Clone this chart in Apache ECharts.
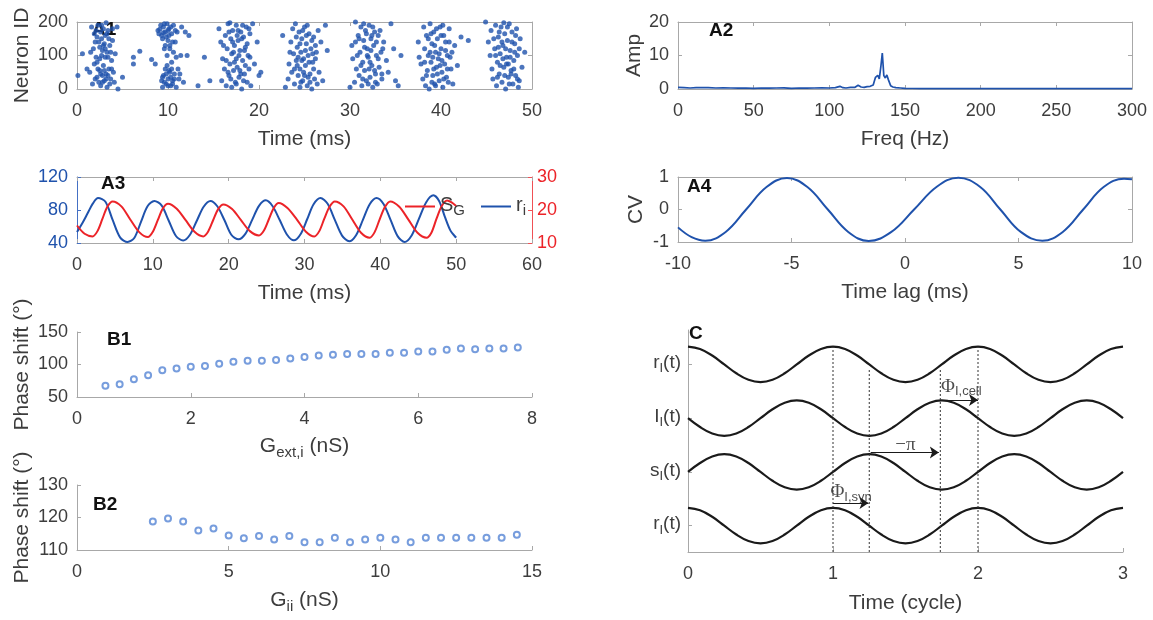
<!DOCTYPE html>
<html><head><meta charset="utf-8">
<script src="https://cdn.jsdelivr.net/npm/echarts@6/dist/echarts.min.js"></script>
<style>html,body{margin:0;padding:0;background:#fff}#c{width:1153px;height:620px}</style>
</head><body><div id="c"></div>
<script>
// ---------------- DATA ----------------
// A1 raster: [time ms, neuron id]
const burst1 = [[0.1,40],[0.6,105],[1.1,60],[1.4,50],[1.6,185],[1.7,15],[1.8,120],[1.9,165],[2.0,140],[2.1,95],[2.2,35],[2.2,80],[2.3,190],[2.4,20],[2.5,125],[2.5,55],[2.6,170],[2.6,10],[2.7,100],[2.7,150],[2.8,40],[2.8,115],[2.9,180],[2.9,70],[3.0,25],[3.0,135],[3.1,95],[3.1,160],[3.2,45],[3.3,5],[3.3,110],[3.4,175],[3.5,60],[3.6,130],[3.7,30],[3.8,85],[3.9,145],[4.0,50],[4.2,105],[4.4,185],[4.5,0],[5.0,35],[6.2,95],[6.2,75],[6.9,113],
  [2.0,30],[2.1,175],[2.3,60],[2.4,140],[2.5,90],[2.6,45],[2.7,190],[2.8,20],[2.9,130],[3.0,55],[3.1,120],[3.2,30],[3.3,165],[3.4,40],[3.4,95],[3.5,150],[3.6,15],[3.7,110],[3.8,60],[3.9,180],[1.9,75],[1.5,110],[2.2,155],[3.2,198],[4.1,20]];
const burst2 = [[8.2,88],[8.6,75],[8.9,175],[9.0,165],[9.2,190],[9.3,25],[9.4,150],[9.4,5],[9.5,185],[9.5,40],[9.6,120],[9.7,170],[9.7,60],[9.8,15],[9.9,195],[9.9,100],[10.0,145],[10.0,30],[10.1,180],[10.2,50],[10.2,130],[10.3,10],[10.4,165],[10.4,80],[10.5,25],[10.6,110],[10.6,190],[10.7,45],[10.8,140],[10.9,5],[11.0,170],[11.1,60],[11.2,30],[11.4,100],[11.5,185],[11.7,20],[11.9,170],[12.1,100],[12.3,160],[13.3,10],[14.0,95],[14.6,25],
  [9.1,178],[9.3,160],[9.5,168],[9.6,195],[9.8,155],[10.0,175],[10.1,160],[10.3,185],[9.4,35],[9.6,20],[9.8,45],[10.0,10],[10.1,55],[10.3,35],[10.5,15],[10.7,30],[10.2,120],[10.5,140],[10.9,95],[10.4,60],[9.9,70],[11.3,45],[10.8,175],[9.7,130]];
const burst3 = [[15.6,180],[15.8,140],[15.9,25],[16.0,90],[16.2,60],[16.3,160],[16.4,10],[16.5,120],[16.6,195],[16.7,40],[16.8,75],[16.9,150],[17.0,105],[17.0,5],[17.1,175],[17.2,55],[17.3,130],[17.4,20],[17.5,90],[17.5,190],[17.6,65],[17.7,145],[17.8,35],[17.9,115],[18.0,170],[18.1,0],[18.2,85],[18.3,155],[18.4,45],[18.5,125],[18.6,185],[18.7,20],[18.8,100],[18.9,60],[19.0,165],[19.1,10],[19.3,195],[19.5,75],[19.8,140],[20.2,50],[20.0,40],
  [16.1,130],[16.4,85],[16.7,170],[16.9,30],[17.1,140],[17.3,80],[17.5,15],[17.6,160],[17.8,100],[18.0,45],[18.2,190],[18.3,25],[18.5,70],[18.7,135],[18.9,180],[19.0,95],[17.2,110],[16.8,198],[17.9,55],[18.4,115],[16.6,50],[17.7,175],[18.1,150]];
const burst4 = [[22.6,160],[22.9,5],[23.2,30],[23.3,75],[23.5,140],[23.6,50],[23.7,180],[23.8,105],[23.9,15],[24.0,195],[24.1,85],[24.2,125],[24.3,40],[24.4,170],[24.5,60],[24.5,5],[24.6,110],[24.7,150],[24.8,25],[24.9,90],[25.0,185],[25.1,70],[25.2,135],[25.3,10],[25.4,100],[25.5,165],[25.6,45],[25.7,120],[25.8,0],[25.9,80],[26.0,155],[26.1,30],[26.2,90],[26.3,110],[26.5,175],[26.6,50],[26.8,140],[27.0,25],[27.3,190],[27.5,115],
  [23.4,110],[23.9,60],[24.1,155],[24.3,95],[24.5,135],[24.6,20],[24.8,175],[25.0,40],[25.1,115],[25.3,190],[25.5,80],[25.6,20],[25.8,145],[26.0,60],[26.2,130],[26.4,15],[24.2,70],[24.9,50],[25.2,160],[25.9,105],[24.7,85],[25.4,35]];
const burst5 = [[30.0,5],[30.2,130],[30.3,90],[30.5,20],[30.6,200],[30.7,60],[30.9,160],[31.0,40],[31.1,110],[31.2,185],[31.3,10],[31.4,80],[31.5,145],[31.6,55],[31.7,175],[31.8,25],[31.9,120],[32.0,95],[32.1,190],[32.2,35],[32.3,150],[32.4,70],[32.5,5],[32.6,130],[32.7,170],[32.8,45],[32.9,100],[33.0,15],[33.1,160],[33.2,65],[33.4,110],[33.5,30],[33.7,140],[34.0,85],[34.2,50],[34.5,195],[34.8,120],[35.0,25],[35.3,10],[35.6,100],
  [30.8,100],[31.0,150],[31.2,70],[31.4,30],[31.6,125],[31.8,165],[32.0,15],[32.2,80],[32.3,115],[32.5,185],[32.7,55],[32.9,140],[33.1,90],[33.3,175],[33.5,45],[31.5,195],[32.1,60],[32.8,20],[31.9,100],[33.6,120],[30.6,140],[32.4,160]];
const burst6 = [[37.5,140],[37.6,95],[37.8,75],[38.0,30],[38.1,185],[38.2,120],[38.3,10],[38.4,160],[38.5,55],[38.6,100],[38.7,0],[38.8,195],[38.9,80],[39.0,135],[39.1,40],[39.2,170],[39.3,15],[39.4,110],[39.5,65],[39.6,150],[39.7,90],[39.8,25],[39.9,185],[40.0,120],[40.1,50],[40.2,5],[40.3,160],[40.4,75],[40.5,140],[40.6,35],[40.7,100],[40.8,20],[40.9,180],[41.0,95],[41.1,60],[41.3,15],[41.5,130],[41.8,70],[42.2,155],[43.0,145],
  [38.2,80],[38.4,40],[38.6,150],[38.8,110],[39.0,20],[39.1,95],[39.3,130],[39.5,180],[39.6,45],[39.8,105],[40.0,160],[40.1,85],[40.3,30],[40.5,115],[40.7,60],[40.9,140],[39.2,60],[39.9,70],[38.9,165],[40.2,190],[41.2,110],[39.4,10]];
const burst7 = [[44.9,200],[45.2,140],[45.4,100],[45.5,175],[45.6,60],[45.7,30],[45.9,120],[46.0,190],[46.1,10],[46.2,80],[46.3,155],[46.4,45],[46.5,105],[46.6,185],[46.7,20],[46.8,130],[46.9,65],[47.0,165],[47.1,0],[47.2,95],[47.3,145],[47.4,35],[47.4,75],[47.5,195],[47.6,115],[47.7,55],[47.8,170],[47.9,15],[48.0,85],[48.1,135],[48.2,40],[48.3,180],[48.4,100],[48.5,5],[48.6,25],[48.7,150],[48.9,65],[49.2,110],
  [45.8,150],[46.0,100],[46.2,35],[46.4,170],[46.5,70],[46.7,140],[46.8,90],[47.0,40],[47.1,120],[47.3,185],[47.5,15],[47.6,95],[47.8,140],[48.0,60],[48.2,160],[48.4,30],[48.6,120],[46.9,198],[47.2,75],[47.7,45],[46.3,125],[48.1,110]];

// A2 spectrum
const freqHz = [0,4,8,12,16,20,25,30,35,40,45,50,55,60,65,70,75,80,85,90,95,100,104,107,109,111,114,117,119,121,123,125,127,129,130.5,132,133,134,135,136,137,138,139,140.5,142,144,147,150,155,160,170,180,190,200,220,240,260,280,300];
const ampA2  = [0.5,0.4,0.3,0.4,0.45,0.4,0.3,0.35,0.3,0.25,0.3,0.2,0.3,0.25,0.3,0.35,0.2,0.3,0.25,0.3,0.35,0.3,0.4,0.8,0.4,0.3,0.5,0.5,1.1,0.6,0.5,0.7,0.8,1.2,3.5,4.1,3.0,6.5,10.7,4.0,3.3,4.2,2.8,1.0,0.6,0.4,0.3,0.2,0.15,0.1,0.1,0.1,0.1,0.1,0.1,0.1,0.1,0.1,0.1];

// A3 traces
const timeSG = [0,1.0,2.05,2.7,3.35,4.0,4.7,5.85,7.0,8.2,9.35,10.0,10.65,11.3,12.0,13.15,14.3,15.5,16.65,17.3,17.95,18.6,19.3,20.45,21.6,22.8,24.0,24.65,25.3,25.95,26.6,27.75,29.0,30.15,31.3,31.95,32.6,33.3,34.0,35.15,36.3,37.45,38.6,39.25,39.9,40.6,41.3,42.5,43.7,44.9,46.1,46.75,47.4,48.1,48.8,49.4,50.0];
const valSG  = [15.3,12.8,12.0,13.6,17.3,21.0,22.6,21.1,17.2,13.3,11.8,13.4,16.9,20.4,21.9,20.4,17.0,13.4,12.0,13.5,16.9,20.2,21.7,20.3,17.0,13.6,12.3,13.8,17.2,20.6,22.1,20.6,17.1,13.5,12.0,13.6,17.3,21.0,22.6,21.1,17.1,13.1,11.6,13.3,17.1,20.9,22.6,21.0,17.1,13.1,11.6,13.2,17.3,21.2,22.9,22.3,21.2];
const timeRi = [0,0.7,1.4,2.1,2.78,3.75,4.7,5.7,6.67,7.55,8.45,9.3,10.2,11.15,12.1,13.05,14.0,14.9,15.8,16.7,17.6,18.5,19.45,20.35,21.3,22.2,23.1,24.0,24.9,25.8,26.75,27.7,28.6,29.5,30.35,31.2,32.1,33.05,34.0,34.95,35.9,36.8,37.7,38.6,39.5,40.4,41.35,42.3,43.2,44.15,45.1,46.05,47.0,47.75,48.5,49.25,50];
const valRi  = [53.3,64,76,88,94.5,90,68,46.5,41.2,46,66,84.5,91,85.5,67,48.5,43,50,67,84,91,84.5,67.5,50,44.4,51,68,85,91.7,84.5,67.5,50,43.2,51,68.8,87,94.5,87.5,68,49,42,49.5,68,87,94.5,87.5,68,48,41.2,49.5,69.5,89.5,97.8,91,72,55,46.5];

// A4 cross-correlation
const lagMs  = [-10,-9.4,-8.8,-7.9,-7.0,-6.1,-5.2,-4.3,-3.4,-2.5,-1.6,-0.6,0.4,1.4,2.35,3.3,4.2,5.1,6.05,6.95,7.85,8.75,9.65,10];
const cvVals = [-0.55,-0.85,-0.96,-0.69,0,0.69,0.97,0.69,0,-0.69,-0.97,-0.69,0,0.7,0.98,0.7,0,-0.69,-0.96,-0.69,0,0.69,0.95,0.93];

// B1 / B2 phase shifts
const gExt    = [0.5,0.75,1,1.25,1.5,1.75,2,2.25,2.5,2.75,3,3.25,3.5,3.75,4,4.25,4.5,4.75,5,5.25,5.5,5.75,6,6.25,6.5,6.75,7,7.25,7.5,7.75];
const phaseB1 = [67.3,69.8,77.4,83.5,91.1,93.7,96.7,97.7,101.3,104.3,105.8,105.8,106.9,109.4,111.4,114,115,116,116,116,118,118,120,120,122.6,124.6,123.6,124.6,124.6,126];
const gIi     = [2.5,3,3.5,4,4.5,5,5.5,6,6.5,7,7.5,8,8.5,9,9.5,10,10.5,11,11.5,12,12.5,13,13.5,14,14.5];
const phaseB2 = [118.8,119.7,118.8,116,116.6,114.5,113.6,114.3,113.2,114.3,112.4,112.4,113.8,112.4,113.2,113.8,113.2,112.4,113.8,113.8,113.8,113.8,113.8,113.8,114.7];

// C schematic (time in cycles)
const cycleT  = [0,0.083,0.167,0.25,0.333,0.417,0.5,0.583,0.667,0.75,0.833,0.917,1,1.083,1.167,1.25,1.333,1.417,1.5,1.583,1.667,1.75,1.833,1.917,2,2.083,2.167,2.25,2.333,2.417,2.5,2.583,2.667,2.75,2.833,2.917,3];
const rTop    = [3.33,3.286,3.165,3,2.835,2.714,2.67,2.714,2.835,3,3.165,3.286,3.33,3.286,3.165,3,2.835,2.714,2.67,2.714,2.835,3,3.165,3.286,3.33,3.286,3.165,3,2.835,2.714,2.67,2.714,2.835,3,3.165,3.286,3.33];
const iCurve  = [2,1.835,1.714,1.67,1.714,1.835,2,2.165,2.286,2.33,2.286,2.165,2,1.835,1.714,1.67,1.714,1.835,2,2.165,2.286,2.33,2.286,2.165,2,1.835,1.714,1.67,1.714,1.835,2,2.165,2.286,2.33,2.286,2.165,2];
const sCurve  = [1,1.165,1.286,1.33,1.286,1.165,1,0.835,0.714,0.67,0.714,0.835,1,1.165,1.286,1.33,1.286,1.165,1,0.835,0.714,0.67,0.714,0.835,1,1.165,1.286,1.33,1.286,1.165,1,0.835,0.714,0.67,0.714,0.835,1];
const rBottom = [0.33,0.286,0.165,0,-0.165,-0.286,-0.33,-0.286,-0.165,0,0.165,0.286,0.33,0.286,0.165,0,-0.165,-0.286,-0.33,-0.286,-0.165,0,0.165,0.286,0.33,0.286,0.165,0,-0.165,-0.286,-0.33,-0.286,-0.165,0,0.165,0.286,0.33];
const cYMin = -0.49, cYMax = 3.64;
const cYTickVals  = [0,1,2,3];
const cYTickNames = ['{m|r}{s|I}{m|(t)}','{m|s}{s|I}{m|(t)}','{m|I}{s|I}{m|(t)}','{m|r}{s|I}{m|(t)}'];
const cDashT   = [1,1.25,1.74,2];
const cDashTop = [3.33,2.9,2.9,3.33];
const arrowStart = [1.74,1.26,1.0];
const arrowEnd   = [2.0,1.73,1.245];
const arrowY     = [2.34,1.36,0.42];
const arrowTextX = [1.885,1.5,1.125];
const arrowTextY = [2.57,1.48,0.6];
const arrowTexts = ['{p|Φ}{q|I,cell}','{p|−π}','{p|Φ}{q|I,syn}'];

// ---------------- STYLE ----------------
const FONT = '"Liberation Sans", Arial, Helvetica, sans-serif';
const AX = '#a8a8a8';
const TXT = '#3d3d3d';
const BLUE = '#1f52ac';
const RED = '#ec2328';
const CIRC = '#5585d4';
const TICK_FS = 18, NAME_FS = 21;
const richSub = (big, small, pad) => ({
  m:{fontSize:big,fontFamily:FONT,color:TXT,lineHeight:big+3,verticalAlign:'top'},
  s:{fontSize:small,fontFamily:FONT,color:TXT,lineHeight:small+1,padding:[pad,0,0,0],verticalAlign:'bottom'}
});
const zip = (a,b)=>a.map((v,i)=>[v,b[i]]);

function ax(o){
  const lc = o.lineColor || AX, tc = o.labelColor || TXT;
  return {
    type:'value', gridIndex:o.g, min:o.min, max:o.max, interval:o.interval, position:o.pos,
    name:o.name||'', nameLocation:'middle', nameGap:o.gap||0,
    nameTextStyle:{color:TXT,fontSize:NAME_FS,fontFamily:FONT,rich:richSub(NAME_FS,15,11)},
    axisLine:{show:true,onZero:false,lineStyle:{color:lc,width:1}},
    axisTick:{show:o.tick!==false,inside:true,length:4,lineStyle:{color:lc}},
    axisLabel:{show:!o.hide,color:tc,fontSize:TICK_FS,fontFamily:FONT,margin:o.margin||9,showMinLabel:true,showMaxLabel:true},
    splitLine:{show:false}
  };
}

const grids = [
  {left:77, top:22, width:455, height:67},
  {left:678,top:22, width:454, height:67},
  {left:77, top:177,width:455, height:66},
  {left:678,top:177,width:454, height:65},
  {left:77, top:332,width:455, height:65},
  {left:77, top:485,width:455, height:65},
  {left:688,top:330,width:435, height:222}
];

const cY = ax({g:6,min:cYMin,max:cYMax,pos:'left',margin:7});
cY.axisTick.customValues = cYTickVals;
cY.axisLabel.customValues = cYTickVals;
cY.axisLabel.formatter = v => cYTickNames[cYTickVals.indexOf(Math.round(v))];
cY.axisLabel.rich = richSub(19,13,12);

const XM = 13;
const xAxes = [
  ax({g:0,min:0,max:50,interval:10,pos:'bottom',name:'Time (ms)',gap:40,margin:XM}),
  ax({g:0,min:0,max:50,interval:10,pos:'top',hide:true}),
  ax({g:1,min:0,max:300,interval:50,pos:'bottom',name:'Freq (Hz)',gap:40,margin:XM}),
  ax({g:1,min:0,max:300,interval:50,pos:'top',hide:true}),
  ax({g:2,min:0,max:60,interval:10,pos:'bottom',name:'Time (ms)',gap:40,margin:XM}),
  ax({g:2,min:0,max:60,interval:10,pos:'top',hide:true}),
  ax({g:3,min:-10,max:10,interval:5,pos:'bottom',name:'Time lag (ms)',gap:40,margin:XM}),
  ax({g:3,min:-10,max:10,interval:5,pos:'top',hide:true}),
  ax({g:4,min:0,max:8,interval:2,pos:'bottom',name:'{m|G}{s|ext,i}{m| (nS)}',gap:39,margin:XM}),
  ax({g:5,min:0,max:15,interval:5,pos:'bottom',name:'{m|G}{s|ii}{m| (nS)}',gap:40,margin:XM}),
  ax({g:6,min:0,max:3,interval:1,pos:'bottom',name:'Time (cycle)',gap:41,margin:XM})
];
const yAxes = [
  ax({g:0,min:0,max:200,interval:100,pos:'left',name:'Neuron ID',gap:44}),
  ax({g:0,min:0,max:200,interval:100,pos:'right',hide:true}),
  ax({g:1,min:0,max:20,interval:10,pos:'left',name:'Amp',gap:31}),
  ax({g:1,min:0,max:20,interval:10,pos:'right',hide:true}),
  ax({g:2,min:40,max:120,interval:40,pos:'left',lineColor:'#4470c4',labelColor:BLUE}),
  ax({g:2,min:10,max:30,interval:10,pos:'right',lineColor:'#f05055',labelColor:RED,margin:5}),
  ax({g:3,min:-1,max:1,interval:1,pos:'left',name:'CV',gap:31}),
  ax({g:3,min:-1,max:1,interval:1,pos:'right',hide:true}),
  ax({g:4,min:50,max:150,interval:50,pos:'left',name:'Phase shift (°)',gap:44}),
  ax({g:5,min:110,max:130,interval:10,pos:'left',name:'Phase shift (°)',gap:44}),
  cY
];

const series = [];
series.push({type:'scatter',xAxisIndex:0,yAxisIndex:0,symbol:'circle',symbolSize:5,
  itemStyle:{color:BLUE},data:burst1.concat(burst2,burst3,burst4,burst5,burst6,burst7),z:3});
series.push({type:'line',xAxisIndex:2,yAxisIndex:2,data:zip(freqHz,ampA2),symbol:'none',
  lineStyle:{color:BLUE,width:1.7}});
series.push({name:'r_i',type:'line',xAxisIndex:4,yAxisIndex:4,data:zip(timeRi,valRi),symbol:'none',smooth:0.3,
  itemStyle:{color:BLUE},lineStyle:{color:BLUE,width:2}});
series.push({name:'S_G',type:'line',xAxisIndex:4,yAxisIndex:5,data:zip(timeSG,valSG),symbol:'none',smooth:0.3,
  itemStyle:{color:RED},lineStyle:{color:RED,width:2}});
series.push({type:'line',xAxisIndex:6,yAxisIndex:6,data:zip(lagMs,cvVals),symbol:'none',smooth:0.4,
  lineStyle:{color:BLUE,width:2}});
series.push({type:'scatter',xAxisIndex:8,yAxisIndex:8,data:zip(gExt,phaseB1),symbol:'emptyCircle',symbolSize:6,
  itemStyle:{color:CIRC,borderColor:CIRC,borderWidth:1}});
series.push({type:'scatter',xAxisIndex:9,yAxisIndex:9,data:zip(gIi,phaseB2),symbol:'emptyCircle',symbolSize:6,
  itemStyle:{color:CIRC,borderColor:CIRC,borderWidth:1}});
[rTop,iCurve,sCurve,rBottom].forEach(arr=>{
  series.push({type:'line',xAxisIndex:10,yAxisIndex:10,data:zip(cycleT,arr),symbol:'none',smooth:0.4,
    lineStyle:{color:'#1a1a1a',width:2.2}});
});
cDashT.forEach((t,i)=>{
  series.push({type:'line',xAxisIndex:10,yAxisIndex:10,data:[[t,cYMin],[t,cDashTop[i]]],symbol:'none',
    lineStyle:{color:'#333',width:1,type:[2,2]}});
});
series.push({type:'lines',coordinateSystem:'cartesian2d',xAxisIndex:10,yAxisIndex:10,
  symbol:['none','arrow'],symbolSize:9,lineStyle:{color:'#1a1a1a',width:1.2,opacity:1},
  data:arrowStart.map((s,i)=>({coords:[[s,arrowY[i]],[arrowEnd[i],arrowY[i]]]}))});
series.push({type:'scatter',xAxisIndex:10,yAxisIndex:10,symbolSize:0,
  data:arrowTextX.map((x,i)=>({value:[x,arrowTextY[i]],label:{show:true,position:'inside',formatter:arrowTexts[i],
    rich:{p:{fontSize:19,fontFamily:'"Liberation Serif", serif',color:'#222',lineHeight:21,verticalAlign:'top'},
          q:{fontSize:13,fontFamily:FONT,color:'#222',lineHeight:14,padding:[10,0,0,0],verticalAlign:'bottom'}}}}))});

const panelLabels = [['A1',92,20],['A2',709,21],['A3',101,174],['A4',687,177],['B1',107,330],['B2',93,495],['C',689,324]];
const graphic = panelLabels.map(p=>({type:'text',left:p[1],top:p[2],z:1,
  style:{text:p[0],font:'bold 19px "Liberation Sans", Arial, sans-serif',fill:'#111'}}));

const option = {
  backgroundColor:'#fff',
  animation:false,
  grid:grids,
  xAxis:xAxes,
  yAxis:yAxes,
  legend:{data:['S_G','r_i'],left:400,top:186,itemWidth:30,itemHeight:12,itemGap:16,
    icon:'path://M0,5 L30,5 L30,7 L0,7 Z',
    formatter:n=> n==='S_G' ? '{m|S}{s|G}' : '{m|r}{s|i}',
    textStyle:{color:TXT,fontSize:19,fontFamily:FONT,rich:richSub(20,15,12)}},
  graphic:graphic,
  series:series
};
const chart = echarts.init(document.getElementById('c'));
chart.setOption(option);
</script></body></html>
